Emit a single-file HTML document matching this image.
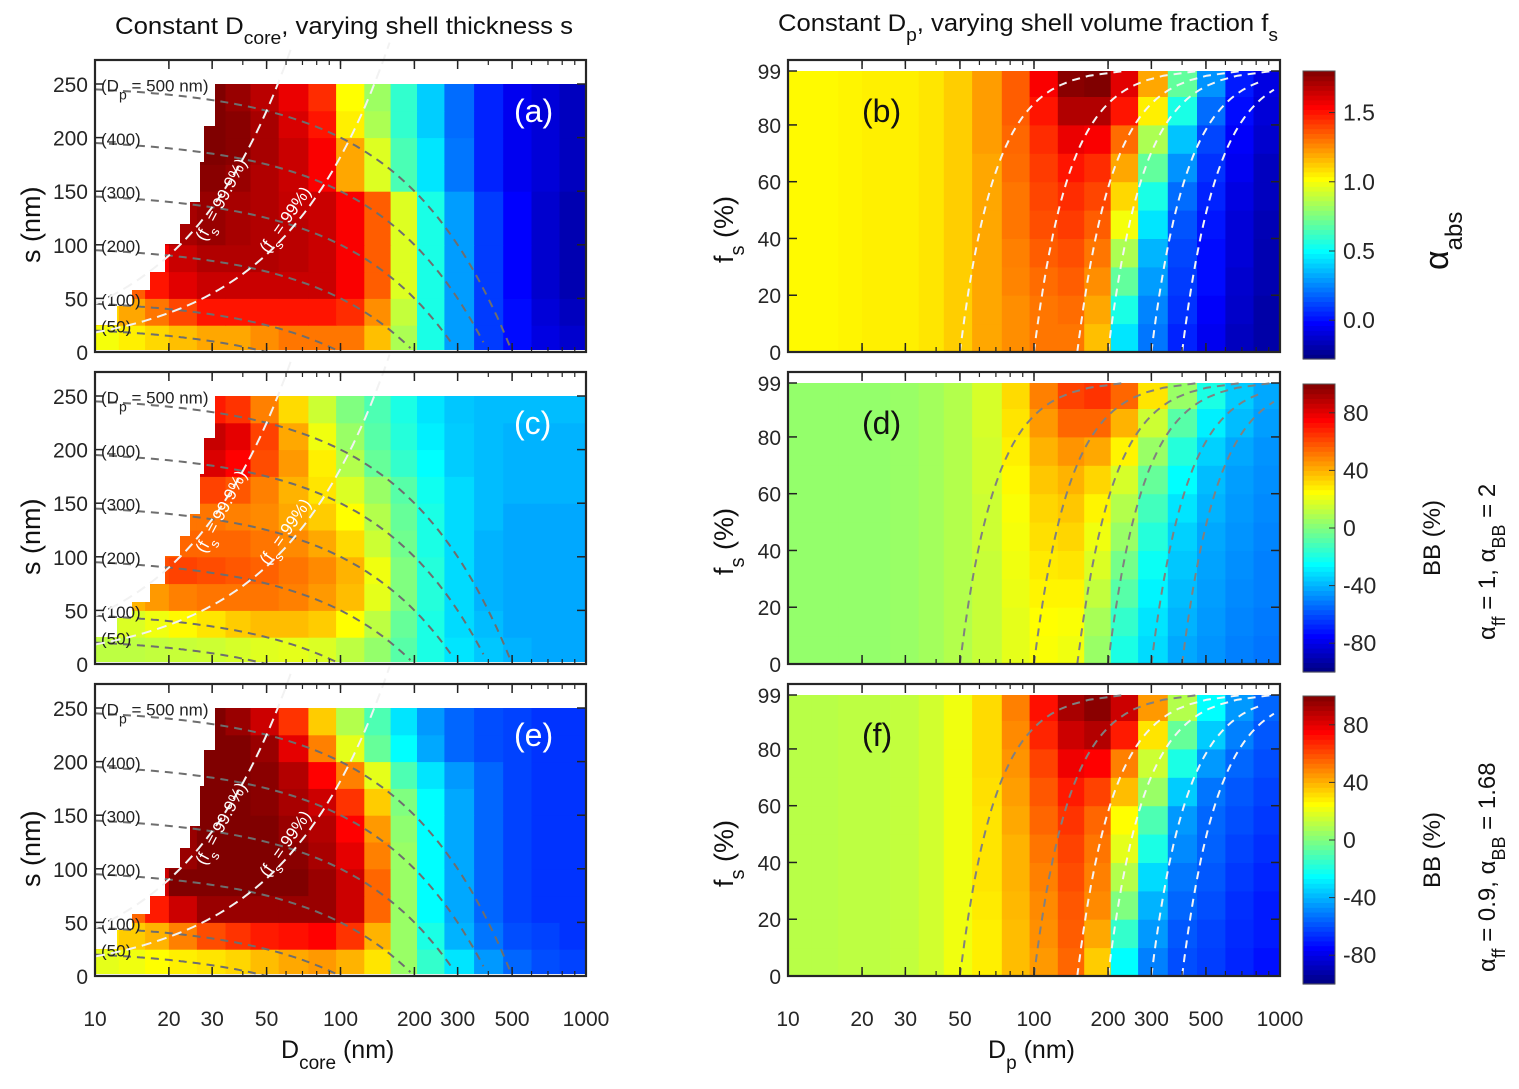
<!DOCTYPE html>
<html><head><meta charset="utf-8">
<style>
html,body{margin:0;padding:0;background:#fff;}
svg{display:block;font-family:"Liberation Sans",Arial,sans-serif;}
</style></head>
<body>
<svg id="fig" width="1519" height="1089" viewBox="0 0 1519 1089" xmlns="http://www.w3.org/2000/svg">
<g id="layer"></g>
</svg>
<script>
// ---- data ----
const dCenters=[11,14,18,23,30,38,50,65,85,110,140,180,230,300,400,520,680,880];
const dEdges=[10,12.5,16,20,26,34,43,56,74,96,125,160,205,265,350,460,600,780,1000];
const sRows=[0,25,50,75,100,125,150,175,200,225,250];
const fsRows=[0,10,20,30,40,50,60,70,80,90,99];
const xTicks=[10,20,30,50,100,200,300,500,1000];
const sTicks=[0,50,100,150,200,250];
const fsTicks=[0,20,40,60,80,99];
const cbTicksA=[0.0,0.5,1.0,1.5];
const cbTicksBB=[-80,-40,0,40,80];
const guideDp=[500,400,300,200,100,50];
const guideDpLabels=['(D<tspan baseline-shift="sub" font-size="14">p</tspan> = 500 nm)','(400)','(300)','(200)','(100)','(50)'];
const guideFs=[0.999,0.99];
const guideDcore=[50,100,150,200,300,400];

const gridA=[
[1.0,1.05,1.1,1.15,1.2,1.2,1.25,1.3,1.3,1.3,1.15,0.85,0.55,0.3,0.1,0,-0.08,-0.12],
[1.1,1.2,1.3,1.4,1.5,1.5,1.5,1.5,1.5,1.45,1.25,0.9,0.55,0.3,0.1,0,-0.1,-0.15],
[1.35,1.35,1.5,1.6,1.65,1.65,1.65,1.65,1.65,1.55,1.35,0.95,0.55,0.3,0.1,-0.02,-0.12,-0.18],
[1.55,1.55,1.55,1.65,1.7,1.7,1.7,1.68,1.65,1.55,1.35,0.95,0.55,0.3,0.1,-0.02,-0.12,-0.18],
[1.65,1.65,1.65,1.72,1.75,1.72,1.7,1.68,1.65,1.55,1.35,0.95,0.55,0.3,0.1,-0.02,-0.12,-0.18],
[1.7,1.7,1.7,1.72,1.75,1.72,1.7,1.66,1.65,1.55,1.35,0.95,0.55,0.3,0.1,-0.02,-0.12,-0.18],
[1.75,1.75,1.75,1.75,1.78,1.75,1.7,1.65,1.55,1.2,0.95,0.65,0.45,0.22,0.05,-0.05,-0.1,-0.15],
[1.8,1.8,1.8,1.8,1.8,1.78,1.72,1.65,1.55,1.2,0.95,0.65,0.45,0.22,0.05,-0.05,-0.1,-0.15],
[1.8,1.8,1.8,1.8,1.8,1.78,1.72,1.62,1.5,1.05,0.85,0.6,0.4,0.2,0.05,-0.05,-0.1,-0.15],
[1.8,1.8,1.8,1.8,1.8,1.75,1.68,1.58,1.45,1.02,0.82,0.6,0.4,0.2,0.05,-0.05,-0.1,-0.15]];
const gridC=[
[12,12,13,14,15,17,19,20,18,12,4,-8,-20,-30,-36,-40,-42,-42],
[15,18,22,26,30,35,38,38,35,25,12,-5,-20,-32,-38,-42,-42,-42],
[40,40,45,50,52,52,52,50,45,38,20,0,-18,-32,-40,-42,-42,-42],
[60,60,60,62,60,58,56,52,48,40,22,0,-18,-32,-40,-42,-42,-42],
[55,55,55,55,55,55,52,48,42,32,15,-3,-20,-32,-40,-42,-42,-42],
[52,52,52,52,52,50,48,42,35,25,10,-5,-20,-32,-38,-42,-42,-42],
[62,62,62,62,62,58,50,40,30,18,5,-8,-22,-32,-38,-40,-40,-40],
[80,80,80,80,82,75,60,45,28,10,-5,-15,-25,-35,-38,-40,-40,-40],
[85,85,85,85,86,80,62,42,22,5,-8,-18,-28,-35,-38,-40,-40,-40],
[70,70,70,70,70,65,50,32,15,0,-10,-20,-30,-36,-38,-38,-38,-38]];
const gridE=[
[20,22,25,28,30,33,38,42,45,40,30,5,-15,-30,-45,-55,-60,-62],
[30,35,40,50,60,65,70,72,75,65,40,5,-20,-40,-52,-60,-62,-65],
[55,55,70,85,95,95,95,95,95,85,55,5,-25,-42,-55,-62,-65,-65],
[85,85,85,100,100,100,100,100,95,85,55,5,-25,-42,-55,-62,-65,-65],
[90,90,90,95,100,100,100,98,92,80,50,5,-25,-42,-55,-62,-65,-65],
[95,95,95,95,100,100,100,95,90,75,45,3,-25,-42,-55,-62,-65,-65],
[100,100,100,100,100,100,98,92,85,65,35,0,-25,-42,-55,-62,-65,-65],
[100,100,100,100,100,100,98,90,75,50,20,-10,-30,-45,-55,-62,-65,-65],
[100,100,100,100,100,100,95,80,50,20,-5,-25,-42,-55,-60,-62,-65,-65],
[100,100,100,100,100,95,85,65,35,10,-10,-30,-45,-55,-60,-62,-65,-65]];
const gridB=[
[1.03,1.03,1.04,1.05,1.05,1.07,1.12,1.2,1.25,1.3,1.3,1.15,0.45,0.22,0.05,-0.05,-0.15,-0.2],
[1.03,1.03,1.04,1.05,1.05,1.07,1.12,1.2,1.25,1.3,1.32,1.2,0.55,0.25,0.08,-0.03,-0.13,-0.2],
[1.03,1.03,1.04,1.05,1.05,1.07,1.12,1.2,1.27,1.32,1.35,1.25,0.7,0.3,0.1,0,-0.12,-0.18],
[1.03,1.03,1.04,1.05,1.05,1.07,1.12,1.2,1.28,1.35,1.38,1.3,0.85,0.35,0.12,0,-0.1,-0.18],
[1.03,1.03,1.04,1.05,1.05,1.07,1.12,1.2,1.3,1.38,1.42,1.35,1.0,0.45,0.15,0.02,-0.1,-0.17],
[1.03,1.03,1.04,1.05,1.05,1.07,1.12,1.2,1.3,1.4,1.45,1.4,1.1,0.55,0.2,0.05,-0.08,-0.15],
[1.03,1.03,1.04,1.05,1.05,1.07,1.12,1.2,1.32,1.42,1.5,1.45,1.2,0.7,0.28,0.08,-0.05,-0.15],
[1.03,1.03,1.04,1.05,1.05,1.07,1.12,1.22,1.33,1.45,1.58,1.55,1.32,0.85,0.38,0.12,-0.03,-0.12],
[1.03,1.03,1.04,1.05,1.05,1.07,1.12,1.22,1.35,1.5,1.7,1.7,1.5,1.05,0.55,0.2,0,-0.1],
[1.03,1.03,1.04,1.05,1.05,1.07,1.12,1.22,1.35,1.55,1.78,1.8,1.6,1.2,0.7,0.28,0.03,-0.08]];
const gridD=[
[4,4,4,4,5,7,10,14,20,24,22,5,-20,-32,-42,-46,-50,-52],
[4,4,4,4,5,7,10,14,20,25,24,8,-15,-30,-40,-45,-49,-51],
[4,4,4,4,5,7,10,14,21,27,27,13,-8,-27,-38,-44,-48,-50],
[4,4,4,4,5,7,10,14,22,29,30,18,-2,-23,-36,-43,-47,-50],
[4,4,4,4,5,7,10,15,23,31,33,22,5,-18,-34,-42,-46,-49],
[4,4,4,4,5,7,10,15,24,33,36,27,10,-12,-30,-40,-45,-48],
[4,4,4,4,5,7,10,16,26,36,40,33,17,-5,-25,-38,-44,-47],
[4,4,4,4,5,7,10,16,28,40,46,42,27,5,-18,-34,-42,-46],
[4,4,4,4,5,7,10,17,30,45,55,55,40,15,-8,-28,-38,-44],
[4,4,4,4,5,7,10,17,32,50,62,65,55,30,5,-20,-35,-42]];
const gridF=[
[11,11,12,12,13,16,22,28,38,45,55,35,-25,-50,-60,-63,-68,-72],
[11,11,12,12,13,16,22,28,38,47,57,42,-15,-45,-58,-62,-67,-70],
[11,11,12,12,13,16,22,29,39,48,58,48,0,-40,-55,-60,-66,-70],
[11,11,12,12,13,16,22,30,40,50,60,50,10,-32,-52,-58,-64,-68],
[11,11,12,12,13,16,22,30,40,52,62,52,20,-20,-48,-56,-62,-66],
[11,11,12,12,13,16,22,30,42,55,65,55,25,-10,-45,-55,-60,-64],
[11,11,12,12,13,16,22,31,44,58,70,62,38,5,-35,-52,-58,-62],
[11,11,12,12,13,16,22,32,46,62,78,75,50,15,-20,-45,-55,-60],
[11,11,12,12,13,16,22,32,48,68,85,90,70,30,-5,-35,-50,-58],
[11,11,12,12,13,16,22,32,50,72,92,98,85,45,10,-25,-45,-55]];

// ---- helpers ----
const NS="http://www.w3.org/2000/svg";
const L=document.getElementById('layer');
function el(tag,attrs,parent){const e=document.createElementNS(NS,tag);for(const k in attrs)e.setAttribute(k,attrs[k]);(parent||L).appendChild(e);return e;}
function clamp(v){return Math.max(0,Math.min(1,v));}
function jet(t){t=clamp(t);const r=clamp(1.5-Math.abs(4*t-3)),g=clamp(1.5-Math.abs(4*t-2)),b=clamp(1.5-Math.abs(4*t-1));return `rgb(${Math.round(r*255)},${Math.round(g*255)},${Math.round(b*255)})`;}

const LEFT={x0:95,x1:586}, RIGHT={x0:788,x1:1280};
const rowsY=[{top:60,bot:352},{top:372,bot:664},{top:684,bot:976}];
function xs(ax,d){return ax.x0+(ax.x1-ax.x0)*(Math.log10(d)-1)/2;}
function ysS(p,s){return p.bot-s*(268/250);}
function ysF(p,f){return p.bot-f*(281/99);}

function heat(ax,p,grid,rows,yfun,vmin,vmax,name){
  const g=el('g',{});
  
  
  for(let r=0;r<grid.length;r++){
    for(let c=0;c<grid[r].length;c++){
      const v=grid[r][c]; if(v===null) continue;
      const xa=xs(ax,dEdges[c]),xb=xs(ax,dEdges[c+1]);
      const ya=yfun(p,rows[r+1]),yb=yfun(p,rows[r]);
      const rc=el('rect',{x:xa.toFixed(1),y:(ya-0.5).toFixed(1),width:(xb-xa+0.6).toFixed(1),height:(yb-ya+1).toFixed(1),fill:jet((v-vmin)/(vmax-vmin))},g);
      
      
    }
  }
}
function frame(ax,p,yticks,yfun,name,showX){
  const g=el('g',{});
  
  
  for(let dec=10;dec<1000;dec*=10){for(let k=1;k<10;k++){const d=dec*k;const x=xs(ax,d);
    el('line',{x1:x,y1:p.bot,x2:x,y2:p.bot-5,stroke:'#222','stroke-width':1.2},g);
    el('line',{x1:x,y1:p.top,x2:x,y2:p.top+5,stroke:'#222','stroke-width':1.2},g);}}
  xTicks.forEach(d=>{const x=xs(ax,d);
    el('line',{x1:x,y1:p.bot,x2:x,y2:p.bot-9,stroke:'#222','stroke-width':1.5},g);
    el('line',{x1:x,y1:p.top,x2:x,y2:p.top+9,stroke:'#222','stroke-width':1.5},g);
    if(showX){const t=el('text',{x:x,y:p.bot+50,'font-size':21,'text-anchor':'middle',fill:'#262626'},g);t.textContent=d;}
  });
  yticks.forEach(v=>{const y=yfun(p,v);
    el('line',{x1:ax.x0,y1:y,x2:ax.x0+9,y2:y,stroke:'#222','stroke-width':1.5},g);
    el('line',{x1:ax.x1,y1:y,x2:ax.x1-9,y2:y,stroke:'#222','stroke-width':1.5},g);
    const t=el('text',{x:ax.x0-7,y:y+8,'font-size':21,'text-anchor':'end',fill:'#262626'},g);t.textContent=v;
    
  });
  el('rect',{x:ax.x0,y:p.top,width:ax.x1-ax.x0,height:p.bot-p.top,fill:'none',stroke:'#262626','stroke-width':2.2},g);
}
function cbar(y0,y1,ticks,vmin,vmax,fmt,name){
  const g=el('g',{});
  
  
  const n=60;
  for(let i=0;i<n;i++){const ya=y1-(i+1)*(y1-y0)/n;el('rect',{x:1303,y:ya,width:32,height:(y1-y0)/n+0.6,fill:jet((i+0.5)/n)},g);}
  el('rect',{x:1303,y:y0,width:32,height:y1-y0,fill:'none',stroke:'#555','stroke-width':1},g);
  ticks.forEach(v=>{const y=y1-(v-vmin)/(vmax-vmin)*(y1-y0);
    el('line',{x1:1329,y1:y,x2:1335,y2:y,stroke:'#333'},g);
    const t=el('text',{x:1343,y:y+8,'font-size':23,fill:'#262626'},g);t.textContent=fmt(v);
    });
}
function txt(x,y,s,attrs,name){const t=el('text',Object.assign({x:x,y:y,fill:'#111','font-size':21},attrs||{}));t.innerHTML=s;return t;}

// ---- heatmaps ----
heat(LEFT,rowsY[0],gridA,sRows,ysS,-0.28,1.8,'heatmap-a');
heat(LEFT,rowsY[1],gridC,sRows,ysS,-100,100,'heatmap-c');
heat(LEFT,rowsY[2],gridE,sRows,ysS,-100,100,'heatmap-e');
heat(RIGHT,rowsY[0],gridB,fsRows,ysF,-0.28,1.8,'heatmap-b');
heat(RIGHT,rowsY[1],gridD,fsRows,ysF,-100,100,'heatmap-d');
heat(RIGHT,rowsY[2],gridF,fsRows,ysF,-100,100,'heatmap-f');

// staircase masks and blanks
rowsY.forEach((p,i)=>{
  const b=p.bot, pts=[[95,b-27],[117,b-27],[117,b-46],[132,b-46],[132,b-62],[150,b-62],[150,b-80],[165,b-80],[165,b-108],[180,b-108],[180,b-128],[190,b-128],[190,b-150],[200,b-150],[200,b-190],[204,b-190],[204,b-226],[215,b-226],[215,b-268],[95,b-268]];
  const m=el('polygon',{points:pts.map(q=>q.join(',')).join(' '),fill:'#fff'});
  
  el('rect',{x:95,y:p.top,width:491,height:b-268-p.top,fill:'#fff'});
  el('rect',{x:788,y:p.top,width:492,height:ysF(p,99)-p.top,fill:'#fff'});
  el('rect',{x:95,y:b-2,width:491,height:2,fill:'#fff'});
});

// guide curves
function pathFrom(ax,p,fnD,yfun,dmin,dmax,clipTop){
  let d='';const n=80;
  for(let i=0;i<=n;i++){const D=Math.pow(10,Math.log10(dmin)+(Math.log10(dmax)-Math.log10(dmin))*i/n);
    const v=fnD(D);if(v<0||v>clipTop)continue;const x=xs(ax,D),y=yfun(p,v);d+=(d?'L':'M')+x.toFixed(1)+' '+y.toFixed(1);}
  return d;
}
rowsY.forEach(p=>{
  guideDp.forEach((Dp,k)=>{
    const pa=el('path',{d:pathFrom(LEFT,p,D=>(Dp-D)/2,ysS,10,Dp,268),fill:'none',stroke:'#6e6e6e','stroke-width':2,'stroke-dasharray':'8 6'});
    
    const y=ysS(p,(Dp-10)/2);
    txt(101,y+2,guideDpLabels[k],{'font-size':17,fill:'#222'},'guide-label');
  });
  guideFs.forEach(f=>{
    const pa=el('path',{d:pathFrom(LEFT,p,D=>D*(Math.pow(1-f,-1/3)-1)/2,ysS,10,1000,290),fill:'none',stroke:'#f2f2f2','stroke-width':2,'stroke-dasharray':'10 6'});
    
  });
  txt(0,0,'(f<tspan baseline-shift="sub" font-size="13">s</tspan> = 99.9%)',{'font-size':17,fill:'#fff',transform:`translate(205 ${p.bot-110}) rotate(-62)`},'fs-label');
  txt(0,0,'(f<tspan baseline-shift="sub" font-size="13">s</tspan> = 99%)',{'font-size':17,fill:'#fff',transform:`translate(268 ${p.bot-98}) rotate(-55)`},'fs-label');
});
rowsY.forEach((p,i)=>{
  guideDcore.forEach((Dc,k)=>{
    let d='';for(let j=0;j<=60;j++){const f=0.99*j/60;const Dp=Dc/Math.pow(1-f,1/3);if(Dp>1000)break;const x=xs(RIGHT,Dp),y=ysF(p,f*100);d+=(d?'L':'M')+x.toFixed(1)+' '+y.toFixed(1);}
    const col=(i==0)?'#f4f4f4':(i==2&&k>=2?'#f4f4f4':'#808080');
    const pa=el('path',{d:d,fill:'none',stroke:col,'stroke-width':2,'stroke-dasharray':'8 6'});
    
  });
});

// frames
frame(LEFT,rowsY[0],sTicks,ysS,'axes-a',false);
frame(LEFT,rowsY[1],sTicks,ysS,'axes-c',false);
frame(LEFT,rowsY[2],sTicks,ysS,'axes-e',true);
frame(RIGHT,rowsY[0],fsTicks,ysF,'axes-b',false);
frame(RIGHT,rowsY[1],fsTicks,ysF,'axes-d',false);
frame(RIGHT,rowsY[2],fsTicks,ysF,'axes-f',true);

// colorbars
cbar(71,359,cbTicksA,-0.28,1.8,v=>v.toFixed(1),'colorbar-alpha-abs');
cbar(384,672,cbTicksBB,-100,100,v=>String(v),'colorbar-bb-1');
cbar(696,984,cbTicksBB,-100,100,v=>String(v),'colorbar-bb-2');

// panel labels
txt(514,122,'(a)',{'font-size':32,fill:'#fff'},'panel-label-a');
txt(514,434,'(c)',{'font-size':32,fill:'#fff'},'panel-label-c');
txt(514,746,'(e)',{'font-size':32,fill:'#fff'},'panel-label-e');
txt(862,122,'(b)',{'font-size':32},'panel-label-b');
txt(862,434,'(d)',{'font-size':32},'panel-label-d');
txt(862,746,'(f)',{'font-size':32},'panel-label-f');

// titles
txt(115,34,'Constant D<tspan baseline-shift="sub" font-size="18">core</tspan>, varying shell thickness s',{'font-size':24,textLength:458,lengthAdjust:'spacingAndGlyphs'},'left-column-title');
txt(778,31,'Constant D<tspan baseline-shift="sub" font-size="18">p</tspan>, varying shell volume fraction f<tspan baseline-shift="sub" font-size="18">s</tspan>',{'font-size':24,textLength:500,lengthAdjust:'spacingAndGlyphs'},'right-column-title');

// axis titles
txt(281,1058,'D<tspan baseline-shift="sub" font-size="19">core</tspan> (nm)',{'font-size':25},'x-axis-title-left');
txt(988,1058,'D<tspan baseline-shift="sub" font-size="19">p</tspan> (nm)',{'font-size':25},'x-axis-title-right');
[206,518,830].forEach((y,i)=>{
  txt(0,0,'s (nm)',{'font-size':27,transform:`translate(40 ${y+57}) rotate(-90)`},'y-axis-title-left');
  txt(0,0,'f<tspan baseline-shift="sub" font-size="20">s</tspan> (%)',{'font-size':27,transform:`translate(733 ${y+57}) rotate(-90)`},'y-axis-title-right');
});
txt(0,0,'α<tspan baseline-shift="sub" font-size="24">abs</tspan>',{'font-size':34,transform:'translate(1448 270) rotate(-90)'},'colorbar-title-alpha');
txt(0,0,'BB (%)',{'font-size':24,transform:'translate(1440 576) rotate(-90)'},'colorbar-title-bb-1');
txt(0,0,'α<tspan baseline-shift="sub" font-size="18">ff</tspan> = 1, α<tspan baseline-shift="sub" font-size="18">BB</tspan> = 2',{'font-size':24,transform:'translate(1495 640) rotate(-90)'},'condition-label-1');
txt(0,0,'BB (%)',{'font-size':24,transform:'translate(1440 888) rotate(-90)'},'colorbar-title-bb-2');
txt(0,0,'α<tspan baseline-shift="sub" font-size="18">ff</tspan> = 0.9, α<tspan baseline-shift="sub" font-size="18">BB</tspan> = 1.68',{'font-size':24,transform:'translate(1495 972) rotate(-90)'},'condition-label-2');
</script>
</body></html>
